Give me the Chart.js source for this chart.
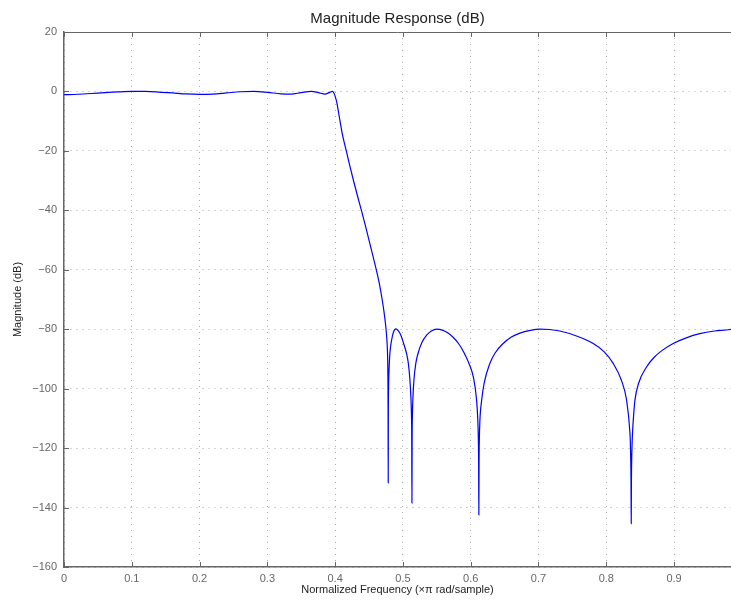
<!DOCTYPE html>
<html>
<head>
<meta charset="utf-8">
<script src="https://cdn.jsdelivr.net/npm/chart.js@4"></script>
<style>
  body { margin: 0; background: #fff; overflow: hidden; }
  #wrap { width: 731px; height: 602px; }
</style>
</head>
<body>
<div id="wrap"><canvas id="magChart" width="731" height="602"></canvas></div>
<script>
// normalized frequency (x pi rad/sample)
var freq = [
  0.000, 0.020, 0.040, 0.060, 0.080, 0.100, 0.120, 0.140, 0.160, 0.180,
  0.200, 0.220, 0.240, 0.260, 0.280, 0.300, 0.320, 0.335, 0.350, 0.365,
  0.375, 0.385, 0.392, 0.396, 0.3997, 0.4025, 0.405, 0.408, 0.411, 0.414,
  0.417, 0.4225, 0.428, 0.4335, 0.439, 0.445, 0.4505, 0.456, 0.461, 0.4655,
  0.469, 0.472, 0.4742, 0.4755, 0.4766, 0.4774, 0.4779, 0.4781, 0.4783, 0.4785,
  0.4788, 0.4795, 0.4808, 0.4833, 0.486, 0.4895, 0.493, 0.497, 0.501, 0.5054,
  0.508, 0.5103, 0.5118, 0.5126, 0.5130, 0.5133, 0.5136, 0.5140, 0.5148, 0.5163,
  0.519, 0.5225, 0.528, 0.535, 0.542, 0.5497, 0.558, 0.566, 0.574, 0.582,
  0.590, 0.5988, 0.604, 0.6087, 0.6105, 0.6113, 0.6117, 0.6120, 0.6123, 0.6127,
  0.6135, 0.6161, 0.620, 0.6283, 0.636, 0.6479, 0.660, 0.6726, 0.688, 0.702,
  0.716, 0.7316, 0.755, 0.7807, 0.797, 0.8102, 0.822, 0.830, 0.8348, 0.8355,
  0.8361, 0.8365, 0.8368, 0.8371, 0.8375, 0.8381, 0.8388, 0.840, 0.8422, 0.848,
  0.8594, 0.870, 0.882, 0.8987, 0.918, 0.938, 0.960, 0.9823, 0.984
];
// magnitude (dB)
var mag = [
  -1.1, -0.95, -0.7, -0.4, -0.15, 0.0, 0.0, -0.2, -0.5, -0.85,
  -1.0, -0.9, -0.5, -0.1, 0.0, -0.3, -0.8, -0.9, -0.4, 0.0,
  -0.4, -0.9, -0.3, 0.0, -1.4, -3.8, -7.0, -11.0, -14.8, -17.7,
  -20.5, -25.8, -30.8, -35.6, -40.2, -45.5, -50.5, -55.6, -60.3, -65.0,
  -69.5, -74.0, -78.0, -81.0, -84.5, -89.0, -97.0, -106.0, -131.7, -108.0,
  -100.0, -94.0, -88.0, -83.7, -81.0, -79.9, -80.5, -82.0, -84.8, -88.2,
  -91.5, -97.0, -103.0, -109.0, -116.0, -138.5, -116.0, -109.0, -103.0, -97.0,
  -91.5, -88.0, -84.5, -82.0, -80.6, -80.0, -80.3, -81.2, -82.7, -84.8,
  -87.8, -92.3, -96.2, -103.9, -110.7, -117.3, -124.7, -142.5, -125.0, -117.5,
  -111.0, -104.0, -98.0, -91.5, -88.0, -84.8, -82.6, -81.3, -80.4, -80.0,
  -80.1, -80.6, -82.2, -84.8, -87.6, -91.5, -97.0, -103.9, -114.5, -118.0,
  -124.0, -131.0, -145.4, -131.0, -124.0, -118.5, -114.5, -110.0, -104.0, -98.0,
  -92.7, -89.6, -87.2, -84.8, -82.9, -81.5, -80.6, -80.1, -80.0
];
var xTicks = [0, 0.1, 0.2, 0.3, 0.4, 0.5, 0.6, 0.7, 0.8, 0.9];
var yTicks = [-160, -140, -120, -100, -80, -60, -40, -20, 0, 20];

var points = freq.map(function (f, i) { return { x: f, y: mag[i] }; });

// MATLAB style box: inward tick marks and top edge
var frameTicks = {
  id: 'frameTicks',
  afterDraw: function (chart) {
    var c = chart.ctx, a = chart.chartArea;
    var xs = chart.scales.x, ys = chart.scales.y;
    c.save();
    c.strokeStyle = '#666';
    c.lineWidth = 1;
    c.beginPath();
    c.moveTo(a.left, a.top + 0.5);
    c.lineTo(a.right, a.top + 0.5);
    xTicks.forEach(function (t) {
      var px = Math.round(xs.getPixelForValue(t)) + 0.5;
      c.moveTo(px, a.bottom); c.lineTo(px, a.bottom - 5);
      c.moveTo(px, a.top); c.lineTo(px, a.top + 5);
    });
    yTicks.forEach(function (t) {
      var py = Math.round(ys.getPixelForValue(t)) + 0.5;
      c.moveTo(a.left, py); c.lineTo(a.left + 5, py);
    });
    c.stroke();
    c.restore();
  }
};

var ctx = document.getElementById('magChart');

new Chart(ctx, {
  type: 'line',
  data: {
    datasets: [{
      data: points,
      borderColor: '#0000ff',
      borderWidth: 1.2,
      pointRadius: 0,
      fill: false,
      cubicInterpolationMode: 'monotone'
    }]
  },
  options: {
    responsive: false,
    animation: false,
    layout: { padding: 0 },
    plugins: {
      legend: { display: false },
      tooltip: { enabled: false },
      title: {
        display: true,
        text: 'Magnitude Response (dB)',
        color: '#222',
        fullSize: false,
        font: { family: 'Liberation Sans, Arial, sans-serif', size: 15, weight: 'normal' },
        padding: { top: 10, bottom: 4 }
      }
    },
    scales: {
      x: {
        type: 'linear',
        min: 0,
        max: 0.984,
        afterBuildTicks: function (s) {
          s.ticks = xTicks.map(function (v) { return { value: v }; });
        },
        afterFit: function (s) { s.height = 35; },
        grid: { color: '#aaa', lineWidth: 1, drawTicks: false },
        border: { display: true, color: '#666', width: 1.5, dash: [1, 5] },
        ticks: {
          padding: 5,
          color: '#666',
          maxRotation: 0,
          font: { family: 'Liberation Sans, Arial, sans-serif', size: 11 },
          callback: function (v) { return v === 0 ? '0' : v.toFixed(1); }
        },
        title: {
          display: true,
          text: 'Normalized Frequency (\u00d7\u03c0 rad/sample)',
          color: '#222',
          font: { family: 'Liberation Sans, Arial, sans-serif', size: 11 },
          padding: { top: 0, bottom: 5 }
        }
      },
      y: {
        min: -160,
        max: 20,
        afterBuildTicks: function (s) {
          s.ticks = yTicks.map(function (v) { return { value: v }; });
        },
        afterFit: function (s) { s.width = 64; },
        grid: { color: '#aaa', lineWidth: 1, drawTicks: false },
        border: { display: true, color: '#666', width: 1.5, dash: [1, 5] },
        ticks: {
          padding: 7,
          color: '#666',
          font: { family: 'Liberation Sans, Arial, sans-serif', size: 11 },
          callback: function (v) { return v < 0 ? '\u2212' + Math.abs(v) : String(v); }
        },
        title: {
          display: true,
          text: 'Magnitude (dB)',
          color: '#222',
          font: { family: 'Liberation Sans, Arial, sans-serif', size: 11 },
          padding: { top: 11, bottom: 0 }
        }
      }
    }
  },
  plugins: [frameTicks]
});
</script>
</body>
</html>
